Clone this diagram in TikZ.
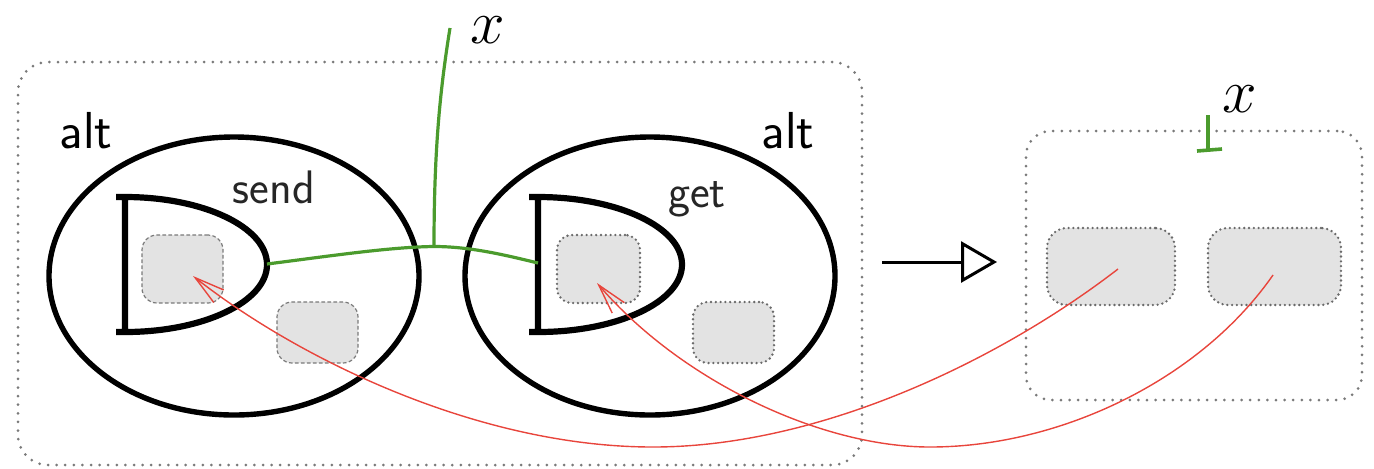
\documentclass[tikz,border=0pt]{standalone}
\usepackage{fix-cm}
\usepackage{fontspec}
\usetikzlibrary{arrows.meta,shapes.geometric}
\definecolor{grn}{HTML}{4B9B2D}
\definecolor{rd}{HTML}{E8453C}
\definecolor{boxfill}{HTML}{E3E3E3}
\definecolor{dotgray}{HTML}{7A7A7A}
\definecolor{dotdark}{HTML}{6A6A6A}
\tikzset{
  bigdots/.style={draw=dotgray, line width=1.5pt, line cap=round, dash pattern=on 0pt off 4.3pt, rounded corners=#1, inner sep=0pt},
  grayboxdash/.style={draw=dotgray, fill=boxfill, line width=0.6pt, dash pattern=on 1.8pt off 1.2pt, rounded corners=7.5pt, inner sep=0pt},
  grayboxdot/.style={draw=dotdark, fill=boxfill, line width=1.3pt, line cap=round, dash pattern=on 0pt off 2.4pt, rounded corners=#1, inner sep=0pt},
  altell/.style={ellipse, draw, line width=2.7pt, inner sep=0pt, minimum width=185pt, minimum height=139pt},
  dline/.style={line width=3.1pt},
  gline/.style={draw=grn, line width=1.6pt},
  rline/.style={draw=rd, line width=0.7pt, -{Straight Barb[length=15pt,width=8pt]}},
  bigarrow/.style={line width=1.5pt, -{Triangle[open,length=18pt,width=20.5pt]}},
  alttxt/.style={font=\sffamily\fontsize{26}{30}\selectfont, inner sep=0pt, anchor=base},
  optxt/.style={font=\sffamily\fontsize{23.5}{28}\selectfont, text=black!85, inner sep=0pt, anchor=base},
  xtxt/.style={font=\fontsize{31}{36}\selectfont, inner sep=0pt, anchor=base}
}
\begin{document}
\begin{tikzpicture}[x=0.5pt,y=-0.5pt]
\useasboundingbox (0,0) rectangle (1374,468);
% outer dotted boxes
\node[bigdots=15pt, minimum width=422pt, minimum height=201.5pt] (outer) at (440,263.5) {};
\node[bigdots=12.5pt, minimum width=168pt, minimum height=134.5pt] (result) at (1194,265.5) {};
% ellipses
\node[altell] (ellL) at (234,276) {};
\node[altell] (ellR) at (650,276) {};
\node[alttxt] (altL) at (86,148) {alt};
\node[alttxt] (altR) at (788,148) {alt};
\node[optxt] (send) at (274,203) {send};
\node[optxt] (get) at (697,207) {get};
% D shapes
\draw[dline] (116,197) -- (125,197) arc[start angle=-90,end angle=90,x radius=142,y radius=67.5] -- (116,332) (125,197) -- (125,332);
\draw[dline] (529,197) -- (538,197) arc[start angle=-90,end angle=90,x radius=144,y radius=67.5] -- (529,332) (538,197) -- (538,332);
\coordinate (dLr) at (267,264);
\coordinate (dRbar) at (538,263);
% gray boxes
\node[grayboxdash, minimum width=40.5pt, minimum height=34pt] (bL1) at (182.5,269) {};
\node[grayboxdash, minimum width=40.5pt, minimum height=30.5pt] (bL2) at (317.5,332.5) {};
\node[grayboxdot=7.5pt, minimum width=41.5pt, minimum height=34pt] (bR1) at (598.5,269) {};
\node[grayboxdot=7.5pt, minimum width=40.5pt, minimum height=30.5pt] (bR2) at (733.5,332.5) {};
\node[grayboxdot=10pt, minimum width=64pt, minimum height=38.5pt] (bA) at (1111,266.5) {};
\node[grayboxdot=10pt, minimum width=66.5pt, minimum height=38.5pt] (bB) at (1274.5,266.5) {};
% green wire
\coordinate (jn) at (434,246.5);
\coordinate (xtop) at (450,28);
\draw[gline] (dLr) .. controls (330,256) and (390,247) .. (jn) .. controls (470,246.5) and (505,255) .. (dRbar);
\draw[gline] (jn) .. controls (434,150) and (440,90) .. (xtop);
\node[xtxt] (xL) at (488,43) {$x$};
% result x
\coordinate (tTop) at (1208,115);
\coordinate (tBot) at (1208,150);
\draw[gline, line width=1.8pt] (tTop) -- (tBot) (1197,151) -- (1222,149);
\node[xtxt] (xR) at (1240,112) {$x$};
% middle arrow
\coordinate (a1) at (882,262);
\coordinate (a2) at (997,262);
\draw[bigarrow] (a1) -- (a2);
% red arrows
\coordinate (s1) at (1118,269);
\coordinate (t1) at (193,276);
\coordinate (s2) at (1273,275);
\coordinate (t2) at (597,283);
\draw[rline] (s1) .. controls (1000,360) and (820,447) .. (653,447) .. controls (480,447) and (300,360) .. (t1);
\draw[rline] (s2) .. controls (1200,380) and (1060,447) .. (930,447) .. controls (820,447) and (680,380) .. (t2);
\end{tikzpicture}
\end{document}
